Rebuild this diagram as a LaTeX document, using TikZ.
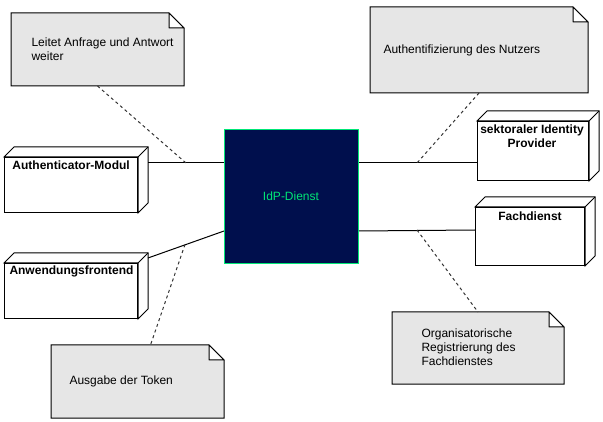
\documentclass[tikz,border=0pt]{standalone}
\usepackage{fontspec}
\setmainfont{Liberation Sans}
\definecolor{notefill}{RGB}{230,230,230}
\definecolor{idpfill}{RGB}{0,15,77}
\definecolor{idpgreen}{RGB}{0,230,118}
\newcommand\drawnote[1]{%
  \draw[notestyle] (#1.south west) -- (#1.north west) -- ([xshift=-15pt]#1.north east) -- ([yshift=-15pt]#1.north east) -- (#1.south east) -- cycle;
  \draw[foldstyle] ([xshift=-15pt]#1.north east) -- ([xshift=-15pt,yshift=-15pt]#1.north east) -- ([yshift=-15pt]#1.north east) -- cycle;
}
\newcommand\drawcube[1]{%
  \draw[cubestyle] (#1.north west) -- ([shift={(10pt,10pt)}]#1.north west) -- ([shift={(10pt,10pt)}]#1.north east) -- ([shift={(10pt,10pt)}]#1.south east) -- (#1.south east) -- (#1.north east) -- cycle;
  \draw[cubestyle] (#1.north east) -- ([shift={(10pt,10pt)}]#1.north east);
}
\begin{document}
\begin{tikzpicture}[x=1pt,y=-1pt,line width=1pt,line join=miter,
  every node/.style={font=\fontsize{12}{14}\selectfont, inner sep=0pt},
  notebox/.style={draw=none, minimum width=#1, anchor=north west},
  notestyle/.style={draw=black, fill=notefill, line width=1pt},
  foldstyle/.style={draw=black, fill=white, line width=1pt, line join=round},
  cubebox/.style={draw=black, fill=white, line width=1pt, minimum width=#1, anchor=north west},
  cubestyle/.style={draw=black, fill=white, line width=1pt},
  boldlabel/.style={font=\fontsize{12}{14}\selectfont\bfseries},
  link/.style={draw=black, line width=1pt},
  dashlink/.style={draw=black!80, line width=1pt, dash pattern=on 3pt off 3pt}]
\useasboundingbox (0,0) rectangle (603,422);

% notes
\node[notebox=172pt, minimum height=72pt] (n1) at (11,13) {};
\node[notebox=217pt, minimum height=85pt] (n2) at (370,7) {};
\node[notebox=172pt, minimum height=72pt] (n3) at (51,345) {};
\node[notebox=171pt, minimum height=71pt] (n4) at (392,312) {};
\drawnote{n1}
\drawnote{n2}
\drawnote{n3}
\drawnote{n4}
\node[anchor=west, align=left] (t1) at (31,49.5) {Leitet Anfrage und Antwort\\weiter};
\node[anchor=west, align=left] (t2) at (383,50) {Authentifizierung des Nutzers};
\node[anchor=west, align=left] (t3) at (69,381) {Ausgabe der Token};
\node[anchor=west, align=left] (t4) at (421,347) {Organisatorische\\Registrierung des\\Fachdienstes};

% cubes
\node[cubebox=133pt, minimum height=55pt] (auth) at (4,157) {};
\node[cubebox=133pt, minimum height=55pt] (anw) at (4,263) {};
\node[cubebox=111pt, minimum height=59pt] (sekt) at (477,121) {};
\node[cubebox=109pt, minimum height=58pt] (fach) at (475,207) {};
\drawcube{auth}
\drawcube{anw}
\drawcube{sekt}
\drawcube{fach}
\node[boldlabel, anchor=west] (la) at (12,165) {Authenticator-Modul};
\node[boldlabel, anchor=west] (lb) at (9,271) {Anwendungsfrontend};
\node[boldlabel, align=center] (lc) at (532,136) {sektoraler Identity\\Provider};
\node[boldlabel] (ld) at (530,216) {Fachdienst};

% IdP
\node[draw=idpgreen, fill=idpfill, line width=1pt, minimum width=134pt, minimum height=134pt, anchor=north west] (idp) at (224,129) {};
\node[text=idpgreen] (lidp) at (291,196) {IdP-Dienst};

% connectors
\draw[link] ([xshift=10pt,yshift=-6pt]auth.north east) -- ([yshift=-34pt]idp.north west);
\draw[link] ([xshift=10pt,yshift=5pt]anw.north east) -- ([yshift=33pt]idp.south west);
\draw[link] ([yshift=-34pt]idp.north east) -- ([yshift=-42pt]sekt.north west);
\draw[link] ([yshift=33pt]idp.south east) -- ([yshift=-23pt]fach.north west);

\coordinate (c1) at (186,163);
\coordinate (c2) at (417,163);
\coordinate (c3) at (185,244.5);
\coordinate (c4) at (417,230);
\draw[dashlink] (n1.south) -- (c1);
\draw[dashlink] (n2.south) -- (c2);
\draw[dashlink] (c3) -- ([xshift=13pt]n3.north);
\draw[dashlink] (c4) -- (n4.north);
\end{tikzpicture}
\end{document}
